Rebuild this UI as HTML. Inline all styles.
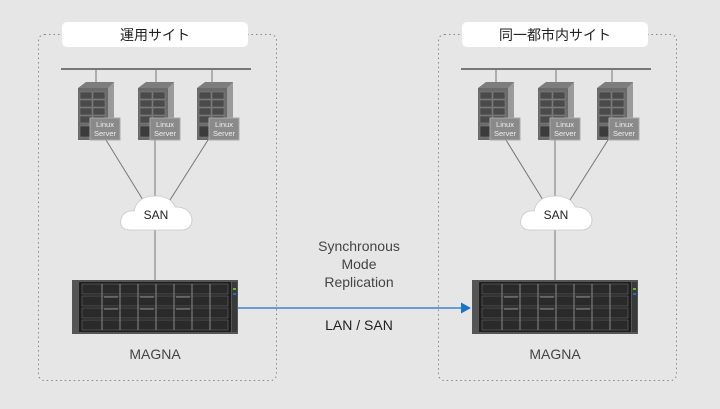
<!DOCTYPE html>
<html><head><meta charset="utf-8"><style>
html,body{margin:0;padding:0;background:#e6e6e6}
svg{display:block;font-family:"Liberation Sans","Noto Sans CJK JP",sans-serif}
</style></head><body>
<svg width="720" height="409" viewBox="0 0 720 409" xmlns="http://www.w3.org/2000/svg">
<defs>
<g id="srv">
  <path d="M4 6 L12 0 L40 0 L40 52 L4 58 Z" fill="#7d7d7d"/>
  <rect x="4" y="6" width="30" height="52" fill="#6a6a6a"/>
  <path d="M34 6 L40 0 L40 52 L34 58 Z" fill="#9a9a9a"/>
  <g fill="#4a4a4a" stroke="#888" stroke-width="0.5">
   <rect x="6" y="10" width="12" height="7"/><rect x="19" y="10" width="12" height="7"/>
   <rect x="6" y="18" width="12" height="7"/><rect x="19" y="18" width="12" height="7"/>
   <rect x="6" y="26" width="12" height="7"/><rect x="19" y="26" width="12" height="7"/>
   <rect x="6" y="34" width="12" height="7"/><rect x="19" y="34" width="12" height="7"/>
   <rect x="6" y="44" width="25" height="11" fill="#3c3c3c"/>
  </g>
  <rect x="16" y="36" width="30" height="22" fill="#8a8a8a" stroke="#aaa" stroke-width="1"/>
  <text x="31" y="45" font-size="7.5" fill="#eee" text-anchor="middle">Linux</text>
  <text x="31" y="54" font-size="7.5" fill="#eee" text-anchor="middle">Server</text>
</g>
<g id="sto">
  <rect x="0" y="0" width="166" height="54" fill="#555"/>
  <rect x="7" y="2" width="152" height="50" fill="#1e1e1e"/>
  <g fill="#2a2a2a" stroke="#6a6a6a" stroke-width="0.6">
   <rect x="10" y="4" width="146" height="10"/><rect x="10" y="16" width="146" height="10"/>
   <rect x="10" y="28" width="146" height="10"/><rect x="10" y="40" width="146" height="10"/>
  </g>
  <g stroke="#888" stroke-width="1">
   <path d="M30 4V50M48 4V50M66 4V50M84 4V50M102 4V50M120 4V50M138 4V50"/>
  </g>
  <g stroke="#777" stroke-width="1.2">
   <path d="M32 17H46M68 17H82M104 17H118M32 29H46M68 29H82M104 29H118"/>
  </g>
  <rect x="160" y="2" width="5" height="50" fill="#3a3a3a"/>
  <rect x="161" y="8" width="3" height="2" fill="#7a3"/><rect x="161" y="13" width="3" height="2" fill="#36c"/>
</g>
<g id="site">
  <rect x="38.5" y="34.5" width="238" height="346" rx="6" fill="none" stroke="#888" stroke-width="1" stroke-dasharray="1.5,3"/>
  <line x1="61" y1="69" x2="251" y2="69" stroke="#777" stroke-width="2"/>
  <g stroke="#777" stroke-width="1" fill="none">
   <line x1="96" y1="69" x2="96" y2="82"/><line x1="156" y1="69" x2="156" y2="82"/><line x1="212" y1="69" x2="212" y2="82"/>
   <line x1="106" y1="140" x2="143" y2="200"/><line x1="155" y1="140" x2="155" y2="200"/><line x1="208" y1="140" x2="170" y2="200"/>
   <line x1="155" y1="228" x2="155" y2="280"/>
  </g>
  <use href="#srv" x="74" y="82"/><use href="#srv" x="134" y="82"/><use href="#srv" x="193" y="82"/>
  <path d="M131 230 Q119 230 121 219 Q124 210 134 211 Q137 196 155 196 Q171 196 175 207 Q190 207 192 219 Q192 230 181 230 Z" fill="#fff" stroke="#c8c8c8" stroke-width="0.8"/>
  <text x="156" y="219" font-size="12" fill="#222" text-anchor="middle">SAN</text>
  <use href="#sto" x="72" y="280"/>
  <text x="155" y="359" font-size="14" fill="#444" text-anchor="middle">MAGNA</text>
</g>
</defs>
<use href="#site"/>
<use href="#site" x="400"/>
<rect x="62" y="22" width="186" height="25" rx="5" fill="#fff"/>
<text x="155" y="40" font-size="14" fill="#222" text-anchor="middle">運用サイト</text>
<rect x="462" y="22" width="186" height="25" rx="5" fill="#fff"/>
<text x="555" y="40" font-size="14" fill="#222" text-anchor="middle">同一都市内サイト</text>
<text x="359" y="251" font-size="14" fill="#444" text-anchor="middle">Synchronous</text>
<text x="359" y="269" font-size="14" fill="#444" text-anchor="middle">Mode</text>
<text x="359" y="287" font-size="14" fill="#444" text-anchor="middle">Replication</text>
<line x1="238" y1="308" x2="462" y2="308" stroke="#1a73c9" stroke-width="1.3"/>
<path d="M471 308 L461 302.5 L461 313.5 Z" fill="#1a73c9"/>
<text x="359" y="330" font-size="14" fill="#222" text-anchor="middle">LAN / SAN</text>
</svg>
</body></html>
